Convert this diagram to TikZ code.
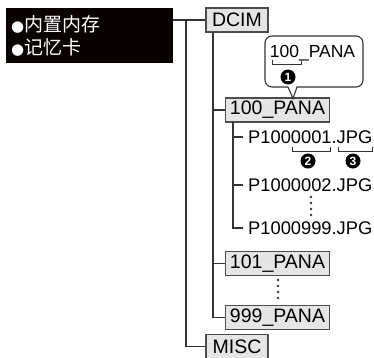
\documentclass[tikz,border=0pt]{standalone}
\usepackage{fontspec}
\setmainfont{Liberation Sans}
\newfontfamily\cjkfont{Noto Sans CJK SC}
\newfontfamily\symfont{DejaVu Sans}
\begin{document}
\begin{tikzpicture}[x=1pt,y=-1pt,
  line/.style={draw=black!80,line width=1.1pt},
  folder/.style={draw=black!70,fill=black!10,line width=1.1pt,minimum height=24pt,inner sep=0pt,font=\fontsize{19.5}{19.5}\selectfont},
  file/.style={anchor=west,inner xsep=5pt,inner ysep=0pt,font=\fontsize{18.3}{18.3}\selectfont},
  num/.style={circle,fill=black,text=white,inner sep=0pt,minimum size=15pt,font=\fontsize{12}{12}\selectfont\bfseries},
  cjk/.style={anchor=west,text=white,inner sep=0pt,font=\cjkfont\fontsize{19}{19}\selectfont},
  dotc/.style={fill=black!80}]
\useasboundingbox (0,0) rectangle (374,357);
% black label box
\node[fill=black!88!red!30!black,minimum width=167pt,minimum height=55pt,anchor=north west,inner sep=0pt] (blk) at (6,8) {};
\node[cjk] (mem) at (11,24) {{\symfont\fontsize{15}{15}\selectfont ●}\hspace{0.5pt}内置内存};
\node[cjk] (card) at (11,47) {{\symfont\fontsize{15}{15}\selectfont ●}\hspace{0.5pt}记忆卡};
% folders
\node[folder,minimum width=62pt] (dcim) at (237,20) {DCIM};
\node[folder,minimum width=104pt] (p100) at (277.5,110) {100\_PANA};
\node[folder,minimum width=104pt] (p101) at (277.5,263.5) {101\_PANA};
\node[folder,minimum width=104pt] (p999) at (277.5,317.5) {999\_PANA};
\node[folder,minimum width=62pt] (misc) at (237,346.5) {MISC};
% files
\node[file] (f1) at (243,137) {P1000001.JPG};
\node[file] (f2) at (243,185) {P1000002.JPG};
\node[file] (f3) at (243,228) {P1000999.JPG};
% trunk coordinates
\coordinate (t0) at (186,20);
\coordinate (t1) at (213,32);
\coordinate (t2) at (233,122);
% connectors
\draw[line] (blk.east |- dcim.west) -- (dcim.west);
\draw[line] (t0) |- (misc.west);
\draw[line] (t1) |- (p999.west);
\draw[line] (t1 |- p100.west) -- (p100.west);
\draw[line] (t1 |- p101.west) -- (p101.west);
\draw[line] (t2) |- (f3.west);
\draw[line] (t2 |- f1.west) -- (f1.west);
\draw[line] (t2 |- f2.west) -- (f2.west);
% callout
\draw[line,fill=white] (297,87) -- (293,98.5) -- (288,87) [rounded corners=7pt] -- (265,87) -- (265,36) -- (363,36) -- (363,87) [sharp corners] -- cycle;
\node[inner sep=0pt,font=\fontsize{17.5}{17.5}\selectfont] (co) at (312.5,53) {100\_PANA};
\draw[line,line width=0.9pt] (272,60) -- (272,64) -- (301,64) -- (301,60);
\node[num] (n1) at (288,77) {1};
% brackets under file name
\draw[line,line width=0.9pt] (292,147) -- (292,151) -- (330,151) -- (330,147);
\draw[line,line width=0.9pt] (338,147) -- (338,151) -- (372,151) -- (372,147);
\node[num] (n2) at (308,161) {2};
\node[num] (n3) at (353,161) {3};
% vertical ellipsis dots
\foreach \y in {197,203,209,215} \fill[dotc] (311,\y) circle (1.3pt);
\foreach \y in {280,286,292,298} \fill[dotc] (278,\y) circle (1.3pt);
\end{tikzpicture}
\end{document}
